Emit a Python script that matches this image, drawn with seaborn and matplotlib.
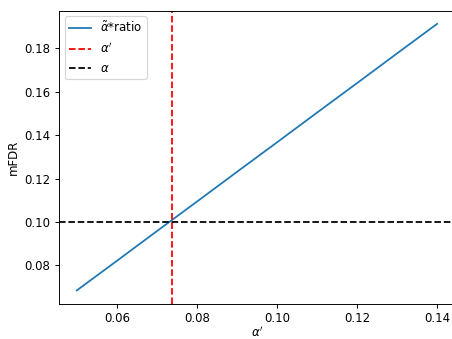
import matplotlib
matplotlib.use("Agg")
import matplotlib.pyplot as plt
import seaborn as sns
import pandas as pd

# valores
alpha_prima = [0.05, 0.06, 0.07, 0.08, 0.09, 0.10, 0.11, 0.12, 0.13, 0.14]
mfdr = [0.0685, 0.0821, 0.0958, 0.1094, 0.1231, 0.1367, 0.1504, 0.1640, 0.1777, 0.1913]
alpha_prima_sel = 0.0739
alpha = 0.10

df = pd.DataFrame({"alpha_prima": alpha_prima, "mfdr": mfdr})

# dpi 85 para que todo quede a escala de la imagen original
fig = plt.figure(figsize=(452 / 85, 339 / 85), dpi=85)
ax = fig.add_axes([0.130, 0.104, 0.877, 0.865])

sns.lineplot(data=df, x="alpha_prima", y="mfdr", ax=ax, color="#1f77b4",
             label=r"$\tilde{\alpha}$*ratio")
ax.axvline(alpha_prima_sel, color="red", linestyle="--", label=r"$\alpha'$")
ax.axhline(alpha, color="black", linestyle="--", label=r"$\alpha$")

ax.set_xlabel(r"$\alpha'$", labelpad=0)
ax.set_ylabel("mFDR")
ax.legend(loc="upper left", handlelength=1.8)

fig.savefig("out.png", dpi=85)
